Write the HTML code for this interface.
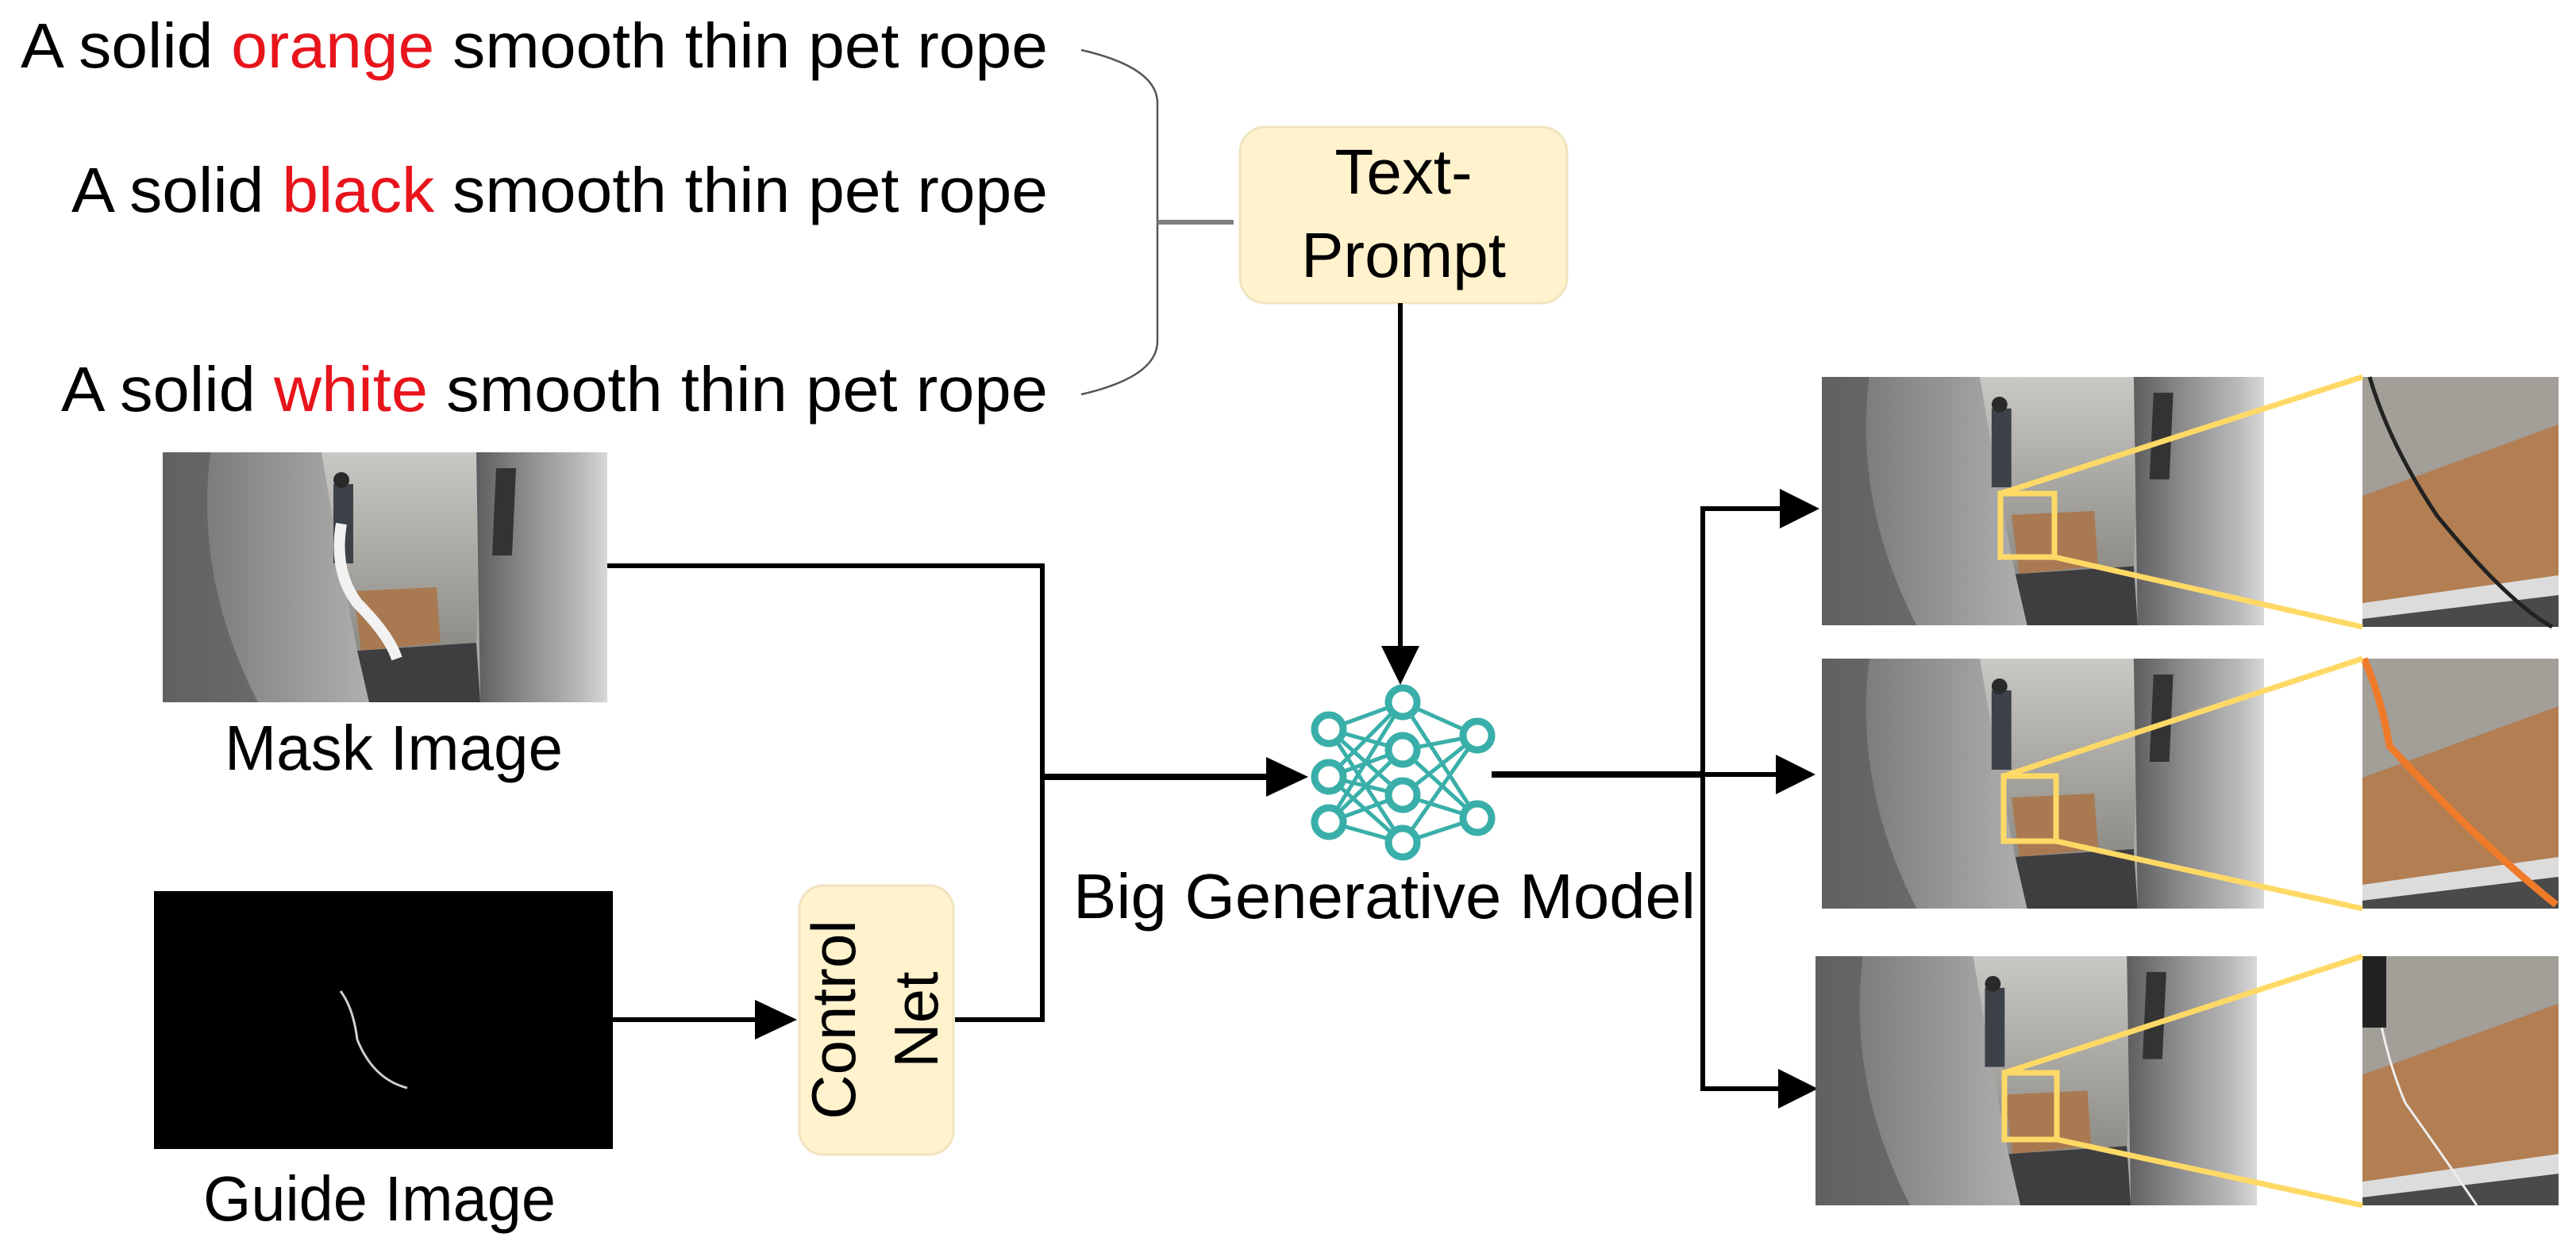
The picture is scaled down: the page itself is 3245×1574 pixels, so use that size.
<!DOCTYPE html>
<html><head><meta charset="utf-8"><style>
html,body{margin:0;padding:0;background:#fff;}
svg{display:block;}
text{font-family:"Liberation Sans",sans-serif;}
</style></head><body>
<svg width="3245" height="1574" viewBox="0 0 3245 1574" xmlns="http://www.w3.org/2000/svg">
<defs>
<linearGradient id="lw" x1="0" y1="0" x2="1" y2="0">
<stop offset="0" stop-color="#6f6f70"/><stop offset="0.5" stop-color="#b4b4b4"/><stop offset="1" stop-color="#9a9a9a"/></linearGradient>
<linearGradient id="rw" x1="0" y1="0" x2="1" y2="0">
<stop offset="0" stop-color="#5e5e60"/><stop offset="0.4" stop-color="#8e8e90"/><stop offset="0.8" stop-color="#b9b9ba"/><stop offset="1" stop-color="#d8d8d8"/></linearGradient>
<linearGradient id="lob" x1="0" y1="0" x2="0" y2="1">
<stop offset="0" stop-color="#c8c8c4"/><stop offset="1" stop-color="#8d8b86"/></linearGradient>
<symbol id="elev" viewBox="0 0 560 315" preserveAspectRatio="none">
<rect width="560" height="315" fill="url(#lw)"/>
<path d="M200 0 L405 0 L395 240 L245 250 Q225 150 200 0Z" fill="url(#lob)"/>
<path d="M240 175 L345 170 L350 240 L250 250Z" fill="#a97a52"/>
<path d="M245 250 L395 240 L400 315 L260 315Z" fill="#3e3e40"/>
<path d="M395 0 L560 0 L560 315 L400 315Z" fill="url(#rw)"/>
<path d="M420 20 L445 20 L440 130 L415 130Z" fill="#333"/>
<path d="M0 0 L60 0 Q40 160 120 315 L0 315Z" fill="#5b5b5d" opacity="0.7"/>
<rect x="215" y="40" width="25" height="100" fill="#3c4248"/>
<circle cx="225" cy="35" r="10" fill="#2a2a2a"/>
</symbol>
<symbol id="crop" viewBox="0 0 247 315" preserveAspectRatio="none">
<rect width="247" height="315" fill="#b27e52"/>
<path d="M0 0 L247 0 L247 60 L0 150Z" fill="#a29e98"/>
<path d="M0 285 L247 250 L247 275 L0 305Z" fill="#dcdcdc"/>
<path d="M0 305 L247 275 L247 315 L0 315Z" fill="#4a4a4a"/>
</symbol>
</defs>

<!-- Text prompts -->
<text x="26" y="85" font-size="80" textLength="1294" lengthAdjust="spacingAndGlyphs">A solid <tspan fill="#e8141c">orange</tspan> smooth thin pet rope</text>
<text x="90" y="267" font-size="80" textLength="1230" lengthAdjust="spacingAndGlyphs">A solid <tspan fill="#e8141c">black</tspan> smooth thin pet rope</text>
<text x="77" y="518" font-size="80" textLength="1243" lengthAdjust="spacingAndGlyphs">A solid <tspan fill="#e8141c">white</tspan> smooth thin pet rope</text>

<!-- bracket -->
<path d="M1362 63 Q1458 85 1458 130 L1458 430 Q1458 475 1362 497" fill="none" stroke="#555" stroke-width="2.5"/>
<line x1="1458" y1="280" x2="1554" y2="280" stroke="#7f7f7f" stroke-width="6"/>

<!-- Text-Prompt box -->
<rect x="1562" y="160" width="412" height="222" rx="32" fill="#fff2cc" stroke="#f0e4c0" stroke-width="3"/>
<text x="1768" y="244" font-size="80" text-anchor="middle">Text-</text>
<text x="1768" y="349" font-size="80" text-anchor="middle">Prompt</text>

<!-- arrow down -->
<line x1="1764" y1="382" x2="1764" y2="820" stroke="#000" stroke-width="6"/>
<polygon points="1740,814 1788,814 1764,863" fill="#000"/>

<!-- mask image -->
<use href="#elev" x="205" y="570" width="560" height="315"/>
<path d="M430 660 Q420 720 450 760 Q490 800 500 830" fill="none" stroke="#f2f2f2" stroke-width="14"/>
<text x="283" y="970" font-size="80" textLength="426" lengthAdjust="spacingAndGlyphs">Mask Image</text>

<!-- guide image -->
<rect x="194" y="1123" width="578" height="325" fill="#000"/>
<path d="M429 1249 Q445 1270 450 1310 Q470 1360 513 1371" fill="none" stroke="#cfcfcf" stroke-width="3"/>
<text x="256" y="1538" font-size="80" textLength="444" lengthAdjust="spacingAndGlyphs">Guide Image</text>

<!-- connectors left -->
<polyline points="765,713 1313,713 1313,1285 1203,1285" fill="none" stroke="#000" stroke-width="6"/>
<line x1="772" y1="1285" x2="955" y2="1285" stroke="#000" stroke-width="6"/>
<polygon points="951,1260 1004,1285 951,1310" fill="#000"/>
<line x1="1313" y1="979" x2="1600" y2="979" stroke="#000" stroke-width="8"/>
<polygon points="1595,954 1648,979 1595,1004" fill="#000"/>

<!-- ControlNet box -->
<rect x="1007" y="1116" width="194" height="339" rx="30" fill="#fff2cc" stroke="#f0e4c0" stroke-width="3"/>
<text transform="translate(1077,1285) rotate(-90)" font-size="78" text-anchor="middle">Control</text>
<text transform="translate(1181,1285) rotate(-90)" font-size="78" text-anchor="middle">Net</text>

<!-- neural net -->
<g stroke="#3aafa9" stroke-width="5" fill="none">
<g>
<line x1="1674" y1="919" x2="1767" y2="885"/><line x1="1674" y1="919" x2="1767" y2="945"/><line x1="1674" y1="919" x2="1767" y2="1002"/><line x1="1674" y1="919" x2="1767" y2="1062"/>
<line x1="1674" y1="979" x2="1767" y2="885"/><line x1="1674" y1="979" x2="1767" y2="945"/><line x1="1674" y1="979" x2="1767" y2="1002"/><line x1="1674" y1="979" x2="1767" y2="1062"/>
<line x1="1674" y1="1036" x2="1767" y2="885"/><line x1="1674" y1="1036" x2="1767" y2="945"/><line x1="1674" y1="1036" x2="1767" y2="1002"/><line x1="1674" y1="1036" x2="1767" y2="1062"/>
<line x1="1767" y1="885" x2="1861" y2="927"/><line x1="1767" y1="945" x2="1861" y2="927"/><line x1="1767" y1="1002" x2="1861" y2="927"/><line x1="1767" y1="1062" x2="1861" y2="927"/>
<line x1="1767" y1="885" x2="1861" y2="1031"/><line x1="1767" y1="945" x2="1861" y2="1031"/><line x1="1767" y1="1002" x2="1861" y2="1031"/><line x1="1767" y1="1062" x2="1861" y2="1031"/>
</g>
</g>
<g stroke="#3aafa9" stroke-width="9" fill="#fff">
<circle cx="1674" cy="919" r="18"/><circle cx="1674" cy="979" r="18"/><circle cx="1674" cy="1036" r="18"/>
<circle cx="1767" cy="885" r="18"/><circle cx="1767" cy="945" r="18"/><circle cx="1767" cy="1002" r="18"/><circle cx="1767" cy="1062" r="18"/>
<circle cx="1861" cy="927" r="18"/><circle cx="1861" cy="1031" r="18"/>
</g>
<text x="1352" y="1157" font-size="80" textLength="784" lengthAdjust="spacingAndGlyphs">Big Generative Model</text>

<!-- right connectors -->
<line x1="1879" y1="976" x2="2145" y2="976" stroke="#000" stroke-width="8"/>
<polyline points="2250,641 2145,641 2145,1372 2250,1372" fill="none" stroke="#000" stroke-width="6"/>
<line x1="2145" y1="976" x2="2250" y2="976" stroke="#000" stroke-width="6"/>
<polygon points="2242,616 2292,641 2242,666" fill="#000"/>
<polygon points="2237,951 2287,976 2237,1001" fill="#000"/>
<polygon points="2240,1347 2290,1372 2240,1397" fill="#000"/>

<!-- output images -->
<use href="#elev" x="2295" y="475" width="557" height="313"/>
<use href="#elev" x="2295" y="830" width="557" height="315"/>
<use href="#elev" x="2287" y="1205" width="556" height="314"/>
<use href="#crop" x="2976" y="475" width="247" height="315"/>
<use href="#crop" x="2976" y="830" width="247" height="315"/>
<use href="#crop" x="2976" y="1205" width="247" height="314"/>
<path d="M2985 475 Q3010 560 3070 650 Q3160 760 3215 790" fill="none" stroke="#222" stroke-width="5"/>
<path d="M2978 830 Q3000 880 3010 940 Q3120 1060 3220 1140" fill="none" stroke="#ef7a2a" stroke-width="9"/>
<path d="M2990 1230 Q3000 1320 3030 1390 Q3080 1460 3120 1519" fill="none" stroke="#eee" stroke-width="3"/>
<rect x="2976" y="1205" width="30" height="90" fill="#222"/>

<!-- yellow zoom boxes & lines -->
<g stroke="#ffd966" fill="none" stroke-width="7">
<rect x="2520" y="622" width="68" height="80"/>
<line x1="2520" y1="622" x2="2976" y2="475"/><line x1="2588" y1="702" x2="2976" y2="790"/>
<rect x="2524" y="978" width="66" height="82"/>
<line x1="2524" y1="978" x2="2976" y2="830"/><line x1="2590" y1="1060" x2="2976" y2="1145"/>
<rect x="2525" y="1352" width="66" height="84"/>
<line x1="2525" y1="1352" x2="2976" y2="1205"/><line x1="2591" y1="1436" x2="2976" y2="1519"/>
</g>
</svg>
</body></html>
